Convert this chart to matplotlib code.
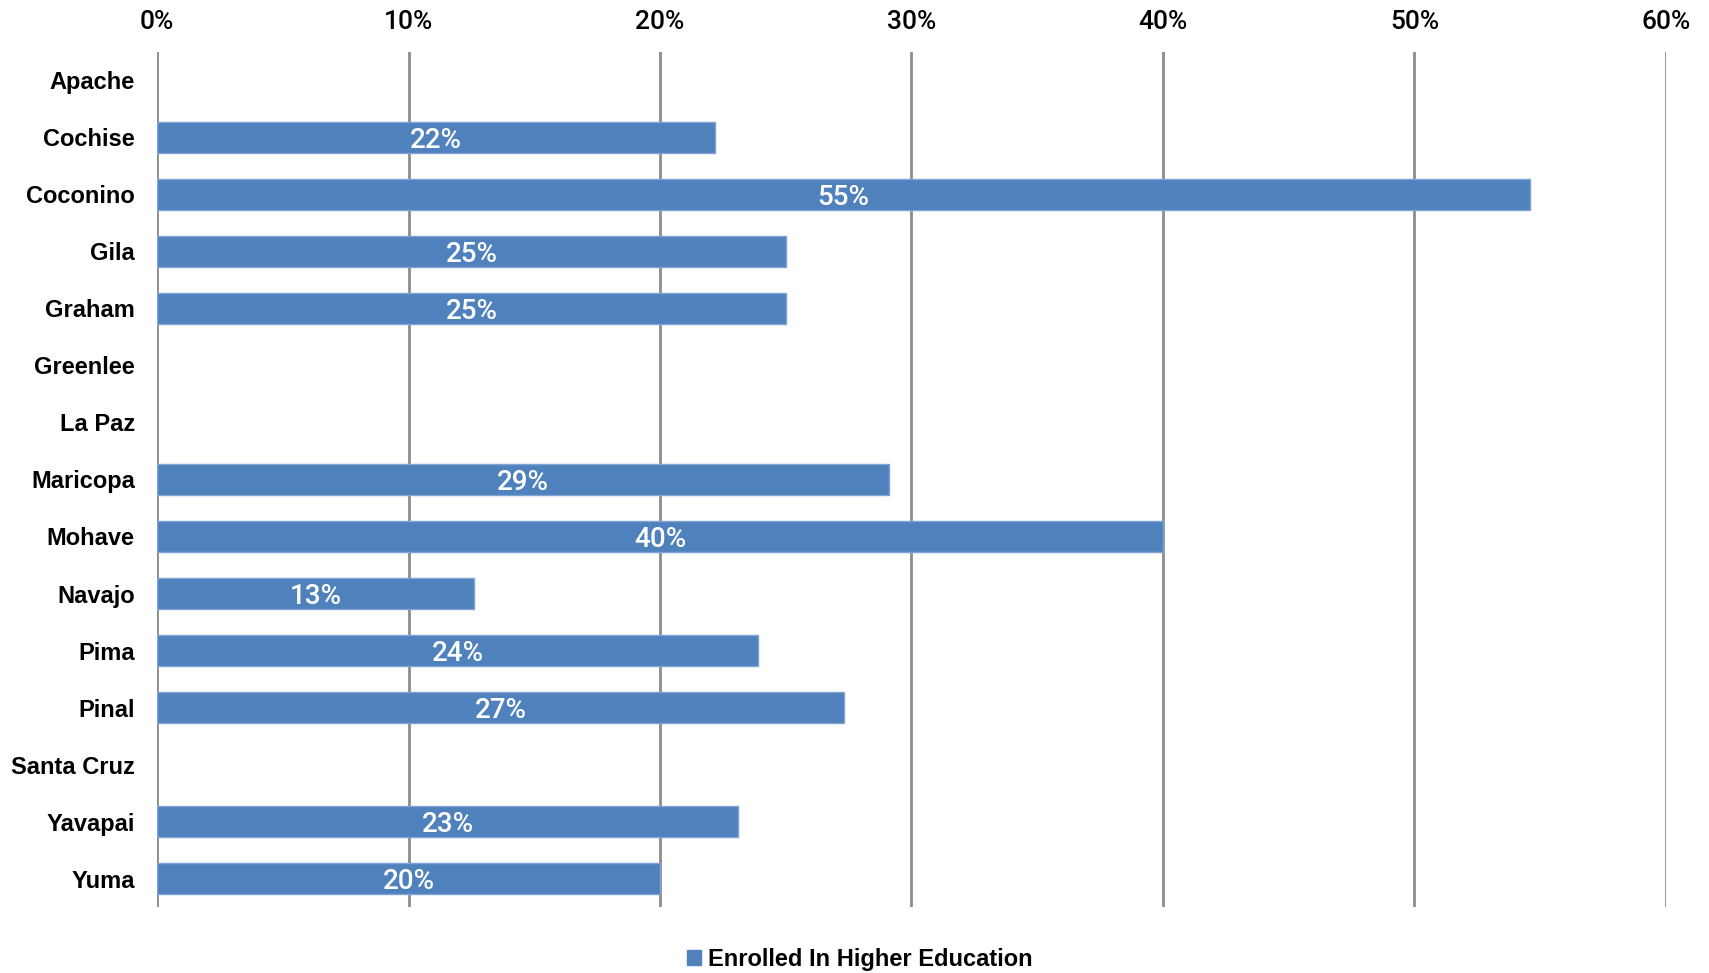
import numpy as np
import matplotlib.pyplot as plt
from matplotlib.patches import Patch

# Condados y porcentaje matriculado (nan = sin dato)
counties = ["Apache", "Cochise", "Coconino", "Gila", "Graham", "Greenlee", "La Paz",
            "Maricopa", "Mohave", "Navajo", "Pima", "Pinal", "Santa Cruz", "Yavapai", "Yuma"]
enrolled = [np.nan, 22.2, 54.6, 25.0, 25.0, np.nan, np.nan,
            29.1, 40.0, 12.6, 23.9, 27.3, np.nan, 23.1, 20.0]
series_name = "Enrolled In Higher Education"

color = "#4F81BD"
plt.rcParams['font.family'] = ['Liberation Sans', 'DejaVu Sans']
medium = ['Roboto', 'Liberation Sans', 'DejaVu Sans']

fig = plt.figure(figsize=(17.09, 9.73), dpi=100)
ax = fig.add_axes([0.0919, 0.0678, 0.8829, 0.8788])

y = np.arange(len(counties))
vals = np.array(enrolled, dtype=float)
ok = ~np.isnan(vals)
ax.barh(y[ok], vals[ok], height=0.56, color=color, edgecolor="#7FA3D3",
        linewidth=1, zorder=3)

for yi, v in zip(y[ok], vals[ok]):
    ax.text(v / 2, yi, f"{round(v):.0f}%", ha="center", va="center_baseline",
            color="white", fontsize=20, family=medium, fontweight="medium", zorder=4)

ax.set_xlim(0, 60)
ax.set_ylim(len(counties) - 0.5, -0.5)
ax.set_xticks(np.arange(0, 61, 10))
ax.set_xticklabels([f"{t}%" for t in range(0, 61, 10)], family=medium,
                   fontweight="medium", fontsize=19)
ax.xaxis.tick_top()
ax.tick_params(axis="x", length=0, pad=13)
ax.set_yticks(y)
ax.set_yticklabels(counties, fontsize=17, fontweight="bold")
ax.tick_params(axis="y", length=0, pad=16)

ax.grid(axis="x", color="#8C8C8C", linewidth=2, zorder=1)
for s in ax.spines.values():
    s.set_visible(False)

fig.legend(handles=[Patch(color=color, label=series_name)], loc="center",
           bbox_to_anchor=(0.503, 0.014), frameon=False,
           handlelength=0.6, handleheight=0.6, handletextpad=0.3,
           prop={"weight": "bold", "size": 17})

plt.savefig("out.png", dpi=100)
